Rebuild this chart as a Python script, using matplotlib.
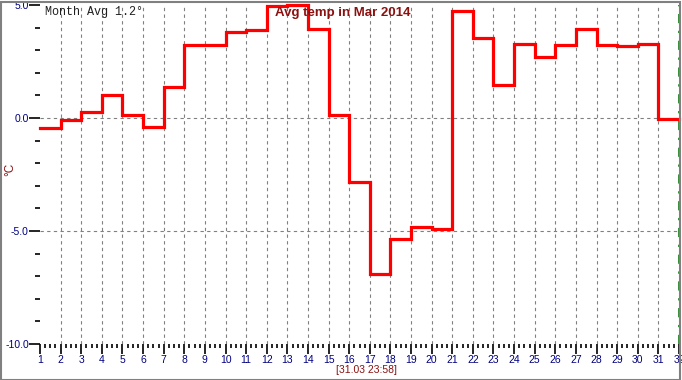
import matplotlib
matplotlib.use("Agg")
import matplotlib.pyplot as plt
from matplotlib.ticker import MultipleLocator, FixedLocator
import numpy as np

days = list(range(1, 32))
temps = [-0.43, -0.1, 0.28, 1.02, 0.15, -0.4, 1.38, 3.21, 3.21, 3.82,
         3.9, 4.95, 4.99, 3.96, 0.13, -2.83, -6.9, -5.36, -4.84, -4.89,
         4.72, 3.53, 1.48, 3.26, 2.68, 3.21, 3.96, 3.21, 3.17, 3.26, -0.03]
title = "Avg temp in Mar 2014"
month_avg_text = "Month Avg 1.2\u00b0"
xlabel = "[31.03 23:58]"
ylabel = "\u00b0C"
ytick_major = [5.0, 0.0, -5.0, -10.0]

W, H = 682, 380
fig = plt.figure(figsize=(W / 100, H / 100), dpi=100)
fig.patch.set_facecolor("white")

# frame around the figure
fig.patches.append(plt.Rectangle((0.5 / W, 0.5 / H), 1 - 2.5 / W, 1 - 2.5 / H,
                                 transform=fig.transFigure, fill=False,
                                 edgecolor="#808080", linewidth=1.5))

left, right, bottom, top = 40, 679, 344, 5
ax = fig.add_axes([left / W, (H - bottom) / H, (right - left) / W, (bottom - top) / H])
ax.set_xlim(1, 32)
ax.set_ylim(-10, 5)
for s in ax.spines.values():
    s.set_visible(False)

# grid lines
for d in range(2, 32):
    ax.axvline(d, color="#808080", linewidth=0.8, dashes=(3, 3), zorder=1)
for yv in [0.0, -5.0]:
    ax.axhline(yv, color="#808080", linewidth=0.8, dashes=(3, 3), zorder=1)
ax.axvline(32, color="#007000", linewidth=1.1, dashes=(6, 5, 1.5, 5), zorder=1, clip_on=False)

# step line
xs = days + [32]
ys = temps + [temps[-1]]
ax.step(xs, ys, where="post", color="#ff0000", linewidth=2.3, zorder=3,
        clip_on=False, solid_joinstyle="miter")

# x ticks
ax.xaxis.set_major_locator(FixedLocator(list(range(1, 33))))
ax.xaxis.set_minor_locator(MultipleLocator(0.25))
ax.tick_params(axis="x", which="major", direction="out", length=7, width=1.2,
               color="black", labelsize=7.5, labelcolor="#000080", pad=1)
ax.tick_params(axis="x", which="minor", direction="out", length=3, width=1.2,
               color="black")
ax.set_xticklabels([str(d) for d in range(1, 33)], fontfamily="Liberation Sans")

# y ticks
ax.yaxis.set_major_locator(FixedLocator(ytick_major))
ax.yaxis.set_minor_locator(MultipleLocator(1.0))
ax.tick_params(axis="y", which="major", direction="out", length=8, width=1.2,
               color="black", labelsize=7.5, labelcolor="#000080", pad=0)
ax.tick_params(axis="y", which="minor", direction="out", length=3.5, width=1.2,
               color="black")
ax.set_yticklabels([f"{v:.1f}" for v in ytick_major], fontfamily="Liberation Sans")

# texts
fig.text(343 / W, 1 - 13 / H, title, ha="center", va="center", color="#8b1010",
         fontsize=9.5, fontweight="bold", fontfamily="Liberation Sans")
fig.text(45 / W, 1 - 12 / H, month_avg_text, ha="left", va="center", color="#202020",
         fontsize=8.5, fontfamily="Liberation Mono")
fig.text(366 / W, 1 - 370 / H, xlabel, ha="center", va="center", color="#8b1010",
         fontsize=7.5, fontfamily="Liberation Sans")
fig.text(10 / W, 1 - 169 / H, ylabel, ha="center", va="center", color="#8b1010",
         fontsize=8.5, rotation=90, fontfamily="Liberation Sans")

fig.savefig("out.png", dpi=100, facecolor="white")
